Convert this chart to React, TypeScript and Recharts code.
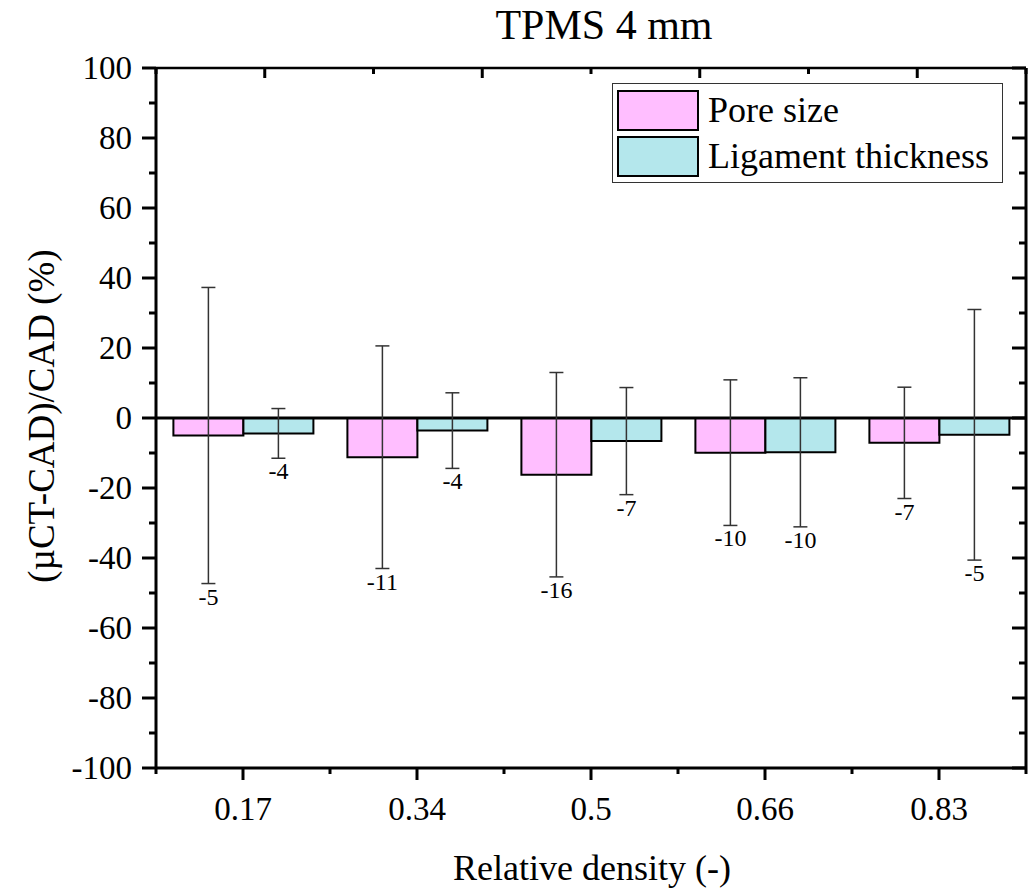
import React from 'react';
import { BarChart, Bar, XAxis, YAxis, ErrorBar, ReferenceLine, Legend, LabelList } from 'recharts';

const densities = ['0.17', '0.34', '0.5', '0.66', '0.83'];
const poreSize = [-5.0, -11.2, -16.2, -9.9, -7.1];
const poreErr = [42.3, 31.8, 29.2, 20.8, 15.9];
const ligament = [-4.4, -3.6, -6.6, -9.8, -4.8];
const ligErr = [7.1, 10.8, 15.3, 21.3, 35.8];
const yTicks = [-100, -90, -80, -70, -60, -50, -40, -30, -20, -10, 0, 10, 20, 30, 40, 50, 60, 70, 80, 90, 100];
const seriesNames = ['Pore size', 'Ligament thickness'];
const seriesColors = ['#FFBEFF', '#B4E7EC'];

const data = densities.map((d, i) => ({
  density: d,
  pore: poreSize[i],
  poreErr: poreErr[i],
  lig: ligament[i],
  ligErr: ligErr[i],
}));

// top frame axis: numeric 0..n, ticks at band centres (major) and band edges (minor)
const topTicks = Array.from({ length: densities.length * 2 + 1 }, (_, i) => i / 2);

const FONT = "Liberation Serif, Times New Roman, serif";
const txt = { fontFamily: FONT };

// left axis: long ticks at 20s with labels, short ones at 10s
const LeftTick = (props: any) => {
  const { x, y, payload } = props;
  const major = payload.value % 20 === 0;
  const len = major ? 14 : 7;
  return (
    <g>
      <line x1={x - len} y1={y} x2={x} y2={y} stroke="#000" strokeWidth={3} />
      {major && (
        <text x={x - 24} y={y} textAnchor="end" dominantBaseline="central" fontSize={33} style={txt} fill="#000">
          {payload.value}
        </text>
      )}
    </g>
  );
};

const RightTick = (props: any) => {
  const { x, y, payload } = props;
  const len = payload.value % 20 === 0 ? 14 : 7;
  return <line x1={x - len} y1={y} x2={x} y2={y} stroke="#000" strokeWidth={3} />;
};

const TopTick = (props: any) => {
  const { x, y, payload } = props;
  const len = payload.value % 1 === 0 ? 6 : 10;
  return <line x1={x} y1={y} x2={x} y2={y + len} stroke="#000" strokeWidth={3} />;
};

const BottomTick = (props: any) => {
  const { x, y, payload, index, width } = props;
  const half = width / densities.length / 2;
  const last = index === densities.length - 1;
  return (
    <g>
      <line x1={x} y1={y} x2={x} y2={y + 12} stroke="#000" strokeWidth={3} />
      <line x1={x - half} y1={y} x2={x - half} y2={y + 6} stroke="#000" strokeWidth={3} />
      {last && <line x1={x + half} y1={y} x2={x + half} y2={y + 6} stroke="#000" strokeWidth={3} />}
      <text x={x} y={y + 52} textAnchor="middle" fontSize={33} style={txt} fill="#000">
        {payload.value}
      </text>
    </g>
  );
};

// value label under the lower end of the error bar
const makeValueLabel = (errs: number[]) => (props: any) => {
  const { x, y, width, height, value, index } = props;
  if (!value) return null;
  const top = Math.min(y, y + height);
  const ppu = Math.abs(height) / Math.abs(value);
  const errBottom = top + (Math.abs(value) + errs[index]) * ppu;
  return (
    <text x={x + width / 2} y={errBottom + 21} textAnchor="middle" fontSize={24} style={txt} fill="#000">
      {Math.round(value)}
    </text>
  );
};

const LegendBox = () => (
  <div style={{ border: '1.5px solid #333', background: '#fff', width: 391, height: 100, boxSizing: 'border-box', padding: '6px 4px' }}>
    {seriesNames.map((name, i) => (
      <div key={name} style={{ display: 'flex', alignItems: 'center', height: 41, marginBottom: i === 0 ? 5 : 0 }}>
        <div style={{ width: 82, height: 41, boxSizing: 'border-box', border: '2px solid #000', background: seriesColors[i] }} />
        <span style={{ marginLeft: 9, fontSize: 36, fontFamily: FONT, color: '#000', lineHeight: '41px' }}>{name}</span>
      </div>
    ))}
  </div>
);

export default function App() {
  return (
    <div style={{ width: 1028, height: 880, fontFamily: FONT }}>
      <BarChart
        width={1028}
        height={880}
        data={data}
        margin={{ top: 59, right: 9, left: 0, bottom: 0 }}
        barCategoryGap="10%"
        barGap={0}
        style={txt}
      >
        <XAxis
          dataKey="density"
          type="category"
          height={120}
          tickSize={0}
          tickMargin={0}
          tick={<BottomTick />}
          axisLine={{ stroke: '#000', strokeWidth: 3 }}
          tickLine={false}
          interval={0}
        />
        <XAxis
          xAxisId="top"
          type="number"
          orientation="top"
          domain={[0, densities.length]}
          ticks={topTicks}
          allowDataOverflow
          height={1}
          tickSize={0}
          tickMargin={0}
          tick={<TopTick />}
          axisLine={{ stroke: '#000', strokeWidth: 2.5 }}
          tickLine={false}
          interval={0}
        />
        <YAxis
          type="number"
          domain={[-100, 100]}
          ticks={yTicks}
          width={148}
          tickSize={0}
          tickMargin={0}
          tick={<LeftTick />}
          tickLine={false}
          axisLine={{ stroke: '#000', strokeWidth: 3 }}
          interval={0}
          allowDataOverflow
        />
        <YAxis
          yAxisId="right"
          orientation="right"
          type="number"
          domain={[-100, 100]}
          ticks={yTicks}
          width={1}
          tickSize={0}
          tickMargin={0}
          tick={<RightTick />}
          tickLine={false}
          axisLine={{ stroke: '#000', strokeWidth: 3 }}
          interval={0}
          allowDataOverflow
        />
        <ReferenceLine y={0} stroke="#000" strokeWidth={3} />
        <Bar dataKey="pore" name={seriesNames[0]} fill={seriesColors[0]} stroke="#000" strokeWidth={2} isAnimationActive={false}>
          <ErrorBar dataKey="poreErr" width={7} stroke="#333" strokeWidth={1.5} direction="y" />
          <LabelList dataKey="pore" content={makeValueLabel(poreErr)} />
        </Bar>
        <Bar dataKey="lig" name={seriesNames[1]} fill={seriesColors[1]} stroke="#000" strokeWidth={2} isAnimationActive={false}>
          <ErrorBar dataKey="ligErr" width={7} stroke="#333" strokeWidth={1.5} direction="y" />
          <LabelList dataKey="lig" content={makeValueLabel(ligErr)} />
        </Bar>
        <Legend
          layout="vertical"
          align="center"
          verticalAlign="middle"
          content={<LegendBox />}
          wrapperStyle={{ top: 75, left: 604, width: 391 }}
        />
        <text x={596} y={31} textAnchor="middle" fontSize={42} style={txt} fill="#000">TPMS 4 mm</text>
        <text x={584} y={872} textAnchor="middle" fontSize={36} style={txt} fill="#000">Relative density (-)</text>
        <text
          x={33}
          y={408}
          transform="rotate(-90 33 408)"
          textAnchor="middle"
          dominantBaseline="central"
          fontSize={37}
          style={txt}
          fill="#000"
        >
          (µCT-CAD)/CAD (%)
        </text>
      </BarChart>
    </div>
  );
}
